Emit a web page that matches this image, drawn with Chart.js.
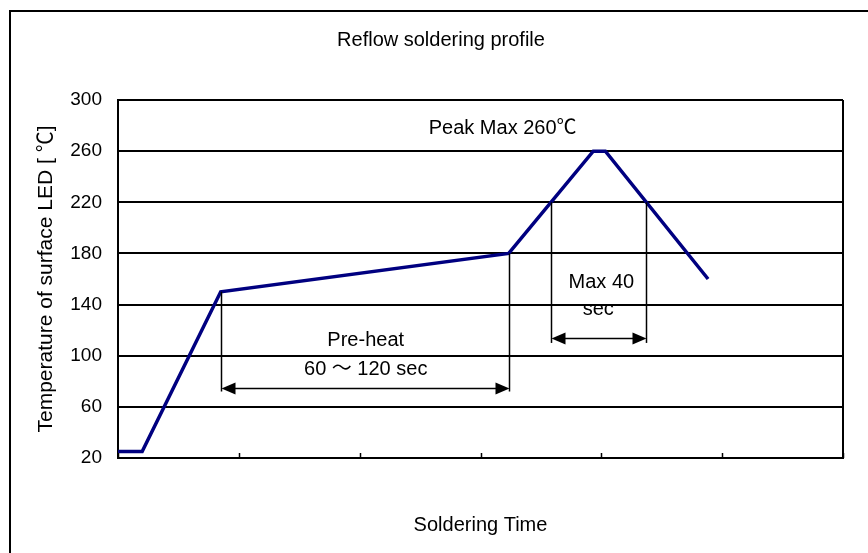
<!DOCTYPE html>
<html>
<head>
<meta charset="utf-8">
<script src="https://cdn.jsdelivr.net/npm/chart.js@4/dist/chart.umd.min.js"></script>
<style>
  body { margin: 0; background: #fff; }
  canvas { display: block; }
</style>
</head>
<body>
<canvas id="profileChart" width="868" height="553"></canvas>
<script>
// reflow profile, time in sec (schematic), temperature in degC
var timeSec = [0, 12, 51, 194, 236, 242, 293];
var tempC = [25, 25, 150, 180, 260, 260, 160];
var tempTicks = [20, 60, 100, 140, 180, 220, 260, 300];
var timeTicks = [0, 60, 120, 180, 240, 300, 360];

// dimension markers
var preheatSpan = [51, 194];
var preheatTop = [150, 180];
var preheatBottom = 72;
var preheatArrowAt = 75;
var peakSpan = [215, 262];
var peakTop = 220;
var peakBottom = 110;
var peakArrowAt = 114;

var noteTexts = ['Pre-heat', '60 ～ 120 sec', 'Max 40', 'sec', 'Peak Max 260℃'];
var noteX = [123, 123, 240, 238.5, 191];
var noteY = [112, 89.6, 157.3, 135.8, 277.5];

var FONT = "'Liberation Sans', 'Noto Sans CJK JP', sans-serif";

let framePlugin = {
    id: 'frame',
    beforeDraw: function(chart) {
        var ctx = chart.ctx;
        ctx.save();
        ctx.fillStyle = '#fff';
        ctx.fillRect(0, 0, chart.width, chart.height);
        ctx.strokeStyle = '#000';
        ctx.lineWidth = 2;
        ctx.strokeRect(10, 11, chart.width + 20, chart.height + 20);
        ctx.restore();
    }
};

let notesPlugin = {
    id: 'notes',
    afterDatasetsDraw: function(chart) {
        var ctx = chart.ctx;
        var xs = chart.scales.x, ys = chart.scales.y;
        var a = chart.chartArea;
        var px = function(v) { return xs.getPixelForValue(v); };
        var py = function(v) { return ys.getPixelForValue(v); };

        ctx.save();
        // right edge of plot box
        ctx.strokeStyle = '#000';
        ctx.lineWidth = 2;
        ctx.beginPath();
        ctx.moveTo(a.right, a.top);
        ctx.lineTo(a.right, a.bottom);
        ctx.stroke();

        // small inward ticks on the time axis
        ctx.lineWidth = 1.5;
        xs.ticks.forEach(function(t) {
            var x = Math.round(px(t.value)) + 0.5;
            ctx.beginPath();
            ctx.moveTo(x, a.bottom);
            ctx.lineTo(x, a.bottom - 5);
            ctx.stroke();
        });

        function vline(x, y1, y2) {
            ctx.beginPath();
            ctx.moveTo(Math.round(px(x)) + 0.5, py(y1));
            ctx.lineTo(Math.round(px(x)) + 0.5, py(y2));
            ctx.stroke();
        }
        function head(x, y, dir) {
            ctx.beginPath();
            ctx.moveTo(x, y);
            ctx.lineTo(x + dir * 14, y - 6);
            ctx.lineTo(x + dir * 14, y + 6);
            ctx.closePath();
            ctx.fill();
        }
        function arrow(x1, x2, y) {
            var l = Math.round(px(x1)) + 0.5, r = Math.round(px(x2)) + 0.5;
            var yy = Math.round(py(y)) + 0.5;
            ctx.beginPath();
            ctx.moveTo(l + 10, yy);
            ctx.lineTo(r - 10, yy);
            ctx.stroke();
            head(l, yy, 1);
            head(r, yy, -1);
        }

        ctx.lineWidth = 1.5;
        ctx.fillStyle = '#000';
        vline(preheatSpan[0], preheatTop[0], preheatBottom);
        vline(preheatSpan[1], preheatTop[1], preheatBottom);
        arrow(preheatSpan[0], preheatSpan[1], preheatArrowAt);
        vline(peakSpan[0], peakTop, peakBottom);
        vline(peakSpan[1], peakTop, peakBottom);
        arrow(peakSpan[0], peakSpan[1], peakArrowAt);

        ctx.font = '20px ' + FONT;
        ctx.textAlign = 'center';
        ctx.textBaseline = 'middle';
        for (var i = 0; i < noteTexts.length; i++) {
            ctx.fillText(noteTexts[i], px(noteX[i]), py(noteY[i]));
        }
        ctx.restore();
    }
};

var points = timeSec.map(function(t, i) { return {x: t, y: tempC[i]}; });

var ctxP = document.getElementById('profileChart').getContext('2d');
var profileChart = new Chart(ctxP, {
    type: 'line',
    data: {
        datasets: [{
            data: points,
            borderColor: '#000080',
            borderWidth: 3.5,
            borderJoinStyle: 'miter',
            pointRadius: 0,
            tension: 0,
            fill: false
        }]
    },
    options: {
        responsive: false,
        animation: false,
        events: [],
        layout: { padding: { left: 14, right: 0, top: 0, bottom: 0 } },
        plugins: {
            legend: { display: false },
            tooltip: { enabled: false },
            title: {
                display: true,
                text: 'Reflow soldering profile',
                color: '#000',
                font: { family: FONT, size: 20, weight: 'normal' },
                padding: { top: 28, bottom: 48 }
            }
        },
        scales: {
            x: {
                type: 'linear',
                min: 0,
                max: 360,
                afterBuildTicks: function(s) { s.ticks = timeTicks.map(function(v) { return {value: v}; }); },
                afterFit: function(s) { s.height = 95; },
                grid: { display: false },
                border: { display: true, color: '#000', width: 2 },
                ticks: { display: false },
                title: {
                    display: true,
                    text: 'Soldering Time',
                    color: '#000',
                    font: { family: FONT, size: 20 },
                    padding: { top: 0, bottom: 16 }
                }
            },
            y: {
                min: 20,
                max: 300,
                afterBuildTicks: function(s) { s.ticks = tempTicks.map(function(v) { return {value: v}; }); },
                afterFit: function(s) { s.width = 104; },
                grid: { color: '#000', lineWidth: 2, drawTicks: false },
                border: { display: true, color: '#000', width: 2 },
                ticks: {
                    color: '#000',
                    padding: 16,
                    font: { family: FONT, size: 19 }
                },
                title: {
                    display: true,
                    text: 'Temperature of surface LED [ ℃]',
                    color: '#000',
                    font: { family: FONT, size: 21 },
                    padding: { top: 20, bottom: 0 }
                }
            },
            yr: {
                type: 'linear',
                position: 'right',
                afterFit: function(s) { s.width = 25; },
                grid: { display: false },
                border: { display: false },
                ticks: { display: false }
            }
        }
    },
    plugins: [framePlugin, notesPlugin]
});
</script>
</body>
</html>
